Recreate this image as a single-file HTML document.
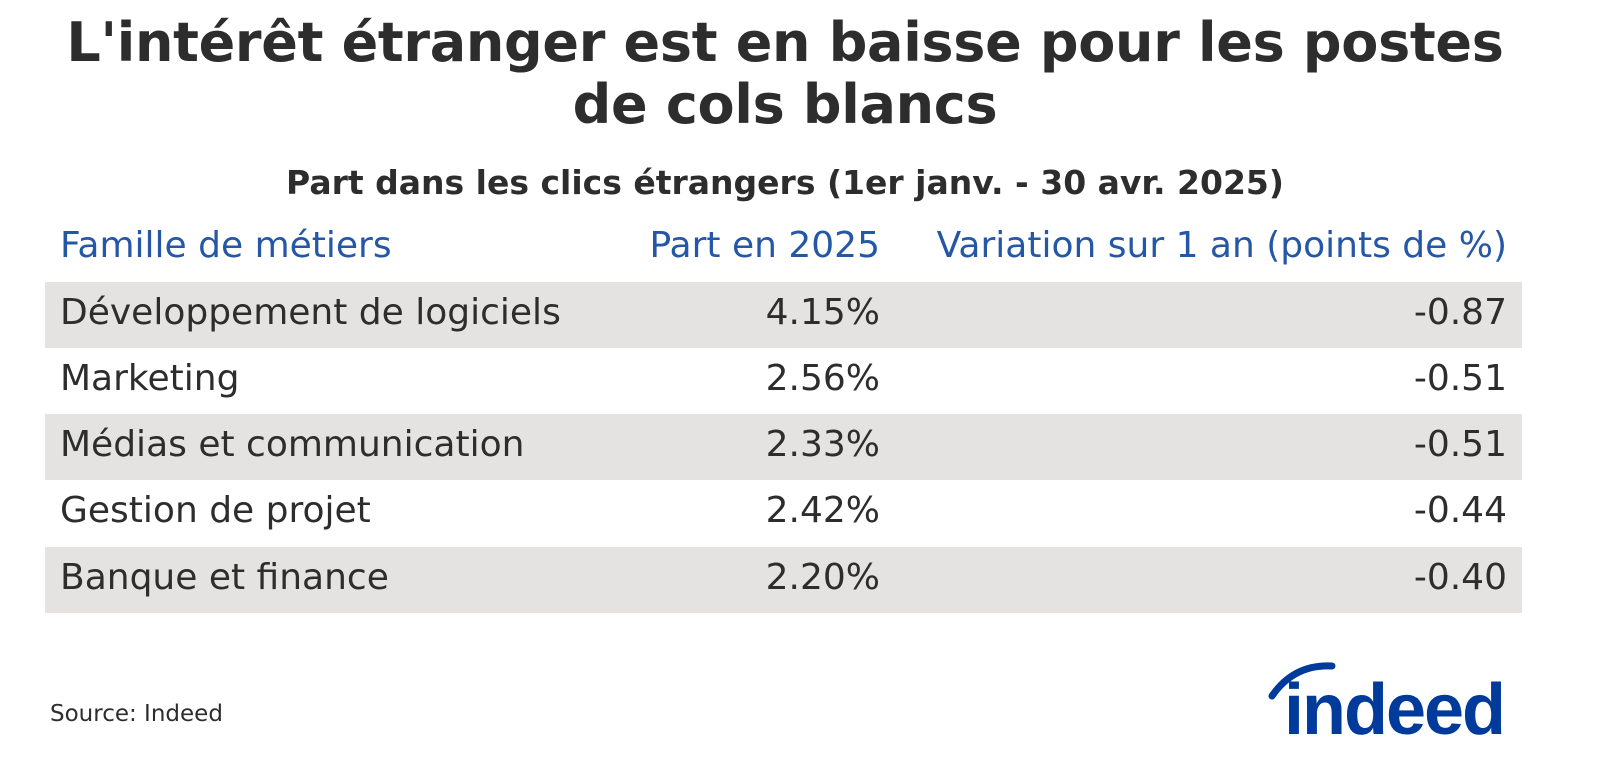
<!DOCTYPE html>
<html><head><meta charset="utf-8"><style>
html,body{margin:0;padding:0;background:#fff;}
body{width:1600px;height:780px;position:relative;overflow:hidden;font-family:"DejaVu Sans","Liberation Sans",sans-serif;color:#2d2d2d;}
.title{position:absolute;left:0;width:1570px;top:12px;text-align:center;font-weight:bold;font-size:54px;line-height:62px;color:#2d2d2d;letter-spacing:-0.3px;}
.sub{position:absolute;left:0;width:1570px;top:163px;text-align:center;font-weight:bold;font-size:33px;color:#2d2d2d;}
.hdr{position:absolute;top:225px;font-size:36px;color:#2557a7;white-space:nowrap;}
.row{position:absolute;left:45px;width:1477px;height:66px;}
.row.g{background:#e4e3e2;}
.c{position:absolute;top:10px;font-size:36px;color:#2d2d2d;white-space:nowrap;}
.c1{left:15px;}
.c2{right:642px;}
.c3{right:15px;}
.src{position:absolute;left:50px;top:701px;font-size:23px;color:#2d2d2d;}
</style></head><body>
<div class="title">L'intérêt étranger est en baisse pour les postes<br>de cols blancs</div>
<div class="sub">Part dans les clics étrangers (1er janv. - 30 avr. 2025)</div>
<div class="hdr" style="left:60px">Famille de métiers</div>
<div class="hdr" style="right:720px">Part en 2025</div>
<div class="hdr" style="right:93px">Variation sur 1 an (points de %)</div>

<div class="row g" style="top:282px"><span class="c c1">Développement de logiciels</span><span class="c c2">4.15%</span><span class="c c3">-0.87</span></div>
<div class="row" style="top:348px"><span class="c c1">Marketing</span><span class="c c2">2.56%</span><span class="c c3">-0.51</span></div>
<div class="row g" style="top:414px"><span class="c c1">Médias et communication</span><span class="c c2">2.33%</span><span class="c c3">-0.51</span></div>
<div class="row" style="top:480px"><span class="c c1">Gestion de projet</span><span class="c c2">2.42%</span><span class="c c3">-0.44</span></div>
<div class="row g" style="top:547px"><span class="c c1">Banque et finance</span><span class="c c2">2.20%</span><span class="c c3">-0.40</span></div>

<div class="src">Source: Indeed</div>
<svg style="position:absolute;left:1262px;top:656px" width="265" height="90">
<path d="M10 40 Q32 8 70 10" stroke="#003a9b" stroke-width="7" fill="none" stroke-linecap="round"/>
<text x="22" y="78" font-family="Liberation Sans, sans-serif" font-weight="bold" font-size="72" fill="#003a9b" letter-spacing="-2">indeed</text>
</svg>
</body></html>
